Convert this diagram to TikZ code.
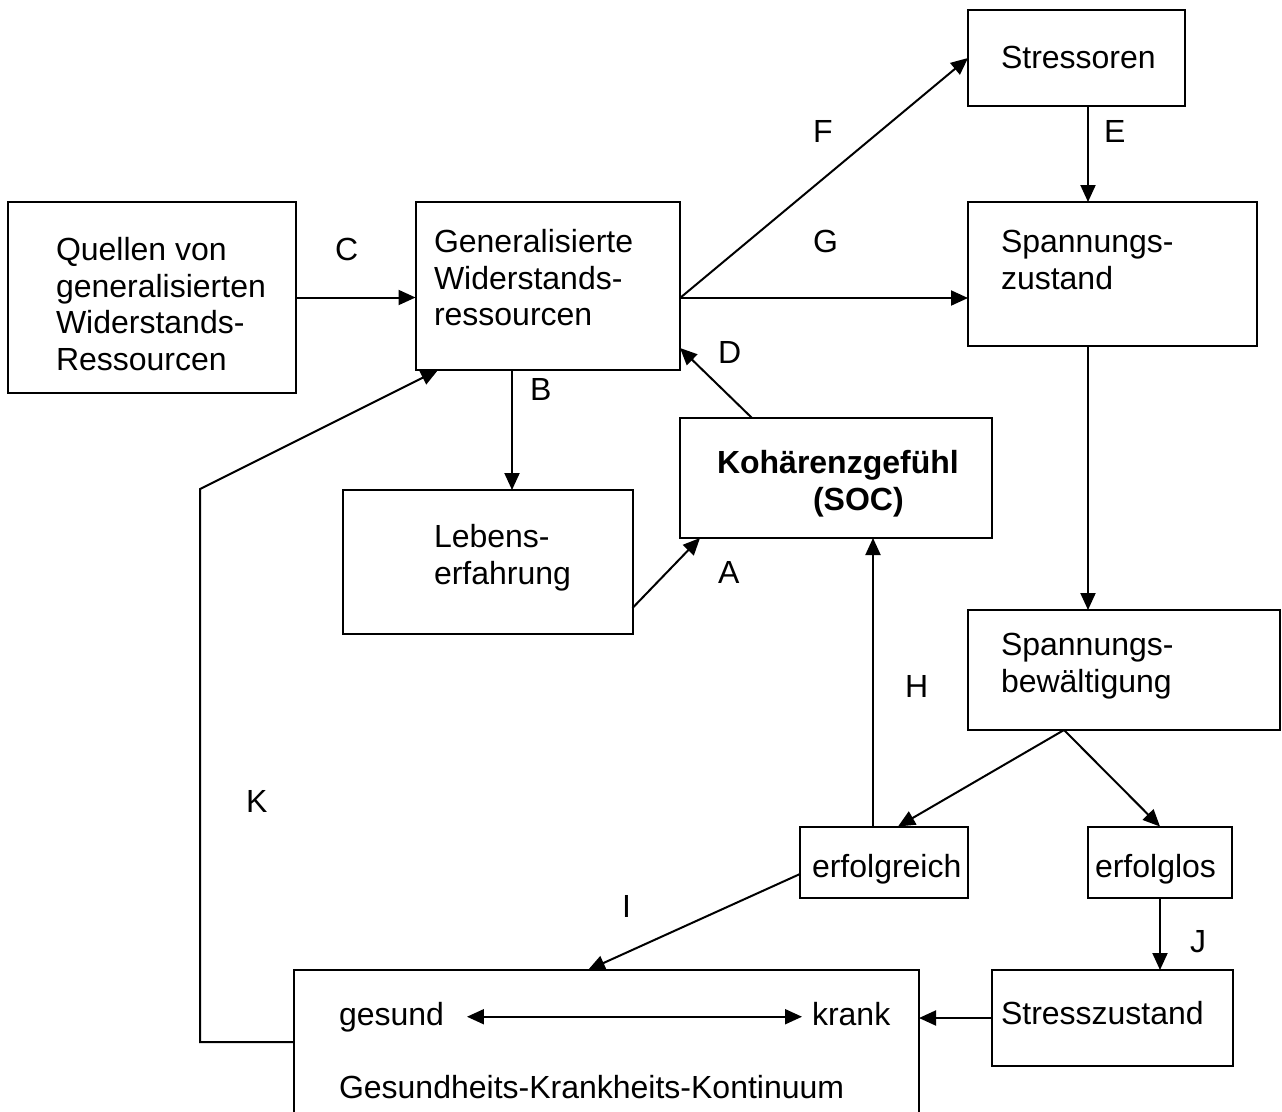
\documentclass[tikz,border=0pt]{standalone}
\usepackage{fontspec}
\setmainfont{Liberation Sans}
\usetikzlibrary{arrows.meta,calc}
\begin{document}
\begin{tikzpicture}[x=1pt,y=-1pt,
  box/.style={draw, line width=2pt, inner sep=0pt, outer sep=0pt},
  txt/.style={anchor=base west, inner sep=0pt, outer sep=0pt, font=\fontsize{32}{36.8}\selectfont},
  btxt/.style={txt, font=\fontsize{32}{36.8}\selectfont\bfseries},
  arr/.style={line width=2pt, -{Triangle[length=17pt,width=15pt]}},
  con/.style={line width=2pt}]
\useasboundingbox (0,0) rectangle (1282,1111);
\clip (0,0) rectangle (1282,1111);
\fill[white] (0,0) rectangle (1282,1111);

% boxes
\node[box, minimum width=288pt, minimum height=191pt] (quellen) at (152,297.5) {};
\node[box, minimum width=264.5pt, minimum height=168pt] (gen) at (547.75,286) {};
\node[box, minimum width=217pt, minimum height=96pt] (stress) at (1076.5,58) {};
\node[box, minimum width=289pt, minimum height=144pt] (spz) at (1112.5,274) {};
\node[box, minimum width=289.5pt, minimum height=144pt] (leb) at (487.75,562) {};
\node[box, minimum width=312pt, minimum height=120pt] (koh) at (836,478) {};
\node[box, minimum width=312pt, minimum height=120pt] (spb) at (1124,670) {};
\node[box, minimum width=168pt, minimum height=71.5pt] (erfg) at (884,862.25) {};
\node[box, minimum width=144pt, minimum height=71.5pt] (erfl) at (1160,862.25) {};
\node[box, minimum width=241pt, minimum height=96pt] (strz) at (1112.5,1018) {};
\node[box, minimum width=625pt, minimum height=160pt] (ges) at (606.5,1050) {};

% texts
\node[txt] (q1) at (56,260) {Quellen von};
\node[txt] (q2) at (56,297) {generalisierten};
\node[txt] (q3) at (56,333) {Widerstands-};
\node[txt] (q4) at (56,370) {Ressourcen};
\node[txt] (g1) at (434,252) {Generalisierte};
\node[txt] (g2) at (434,289) {Widerstands-};
\node[txt] (g3) at (434,325) {ressourcen};
\node[txt] (s1) at (1001,68) {Stressoren};
\node[txt] (z1) at (1001,252) {Spannungs-};
\node[txt] (z2) at (1001,289) {zustand};
\node[txt] (l1) at (434,547) {Lebens-};
\node[txt] (l2) at (434,584) {erfahrung};
\node[btxt] (k1) at (717,473) {Kohärenzgefühl};
\node[btxt] (k2) at (813,510) {(SOC)};
\node[txt] (b1) at (1001,655) {Spannungs-};
\node[txt] (b2) at (1001,692) {bewältigung};
\node[txt] (e1) at (812,877) {erfolgreich};
\node[txt] (e2) at (1095,877) {erfolglos};
\node[txt] (t1) at (1001,1024) {Stresszustand};
\node[txt] (gesund) at (339,1025) {gesund};
\node[txt] (krank) at (812,1025) {krank};
\node[txt] (kont) at (339,1098) {Gesundheits-Krankheits-Kontinuum};

% labels
\node[txt] (lC) at (335,260) {C};
\node[txt] (lG) at (813,252) {G};
\node[txt] (lF) at (813,142) {F};
\node[txt] (lE) at (1104,142) {E};
\node[txt] (lD) at (718,363) {D};
\node[txt] (lB) at (530,400) {B};
\node[txt] (lA) at (718,583) {A};
\node[txt] (lH) at (905,697) {H};
\node[txt] (lI) at (622,917) {I};
\node[txt] (lJ) at (1190,952) {J};
\node[txt] (lK) at (246,812) {K};

% connectors
\draw[arr] (quellen.east) -- (quellen.east -| gen.west);
\coordinate (gout) at ($(gen.east)+(0,12)$);
\draw[arr] (gout) -- (gout -| spz.west);
\draw[arr] (gout) -- (stress.west);
\coordinate (ecol) at ($(stress.south)+(11.5,0)$);
\draw[arr] (ecol) -- (ecol |- spz.north);
\coordinate (zcol) at ($(spz.south)+(-24.5,0)$);
\draw[arr] (zcol) -- (zcol |- spb.north);
\draw[arr] ($(koh.north)+(-84,0)$) -- ($(gen.south east)+(0,-22)$);
\coordinate (bcol) at ($(gen.south)+(-35.75,0)$);
\draw[arr] (bcol) -- (bcol |- leb.north);
\draw[arr] ($(leb.east)+(0,46)$) -- ($(koh.south)+(-136,0)$);
\coordinate (hcol) at ($(erfg.north)+(-11,0)$);
\draw[arr] (hcol) -- (hcol |- koh.south);
\coordinate (sbot) at ($(spb.south)+(-60,0)$);
\draw[arr] (sbot) -- ($(erfg.north)+(14,0)$);
\draw[arr] (sbot) -- (erfl.north);
\draw[arr] (erfl.south) -- (erfl.south |- strz.north);
\draw[arr] ($(erfg.west)+(0,11.75)$) -- ($(ges.north)+(-18.5,0)$);
\draw[arr] (strz.west) -- (strz.west -| ges.east);
\draw[line width=2pt, {Triangle[length=17pt,width=15pt]}-{Triangle[length=17pt,width=15pt]}]
  ([xshift=23pt]gesund.east) -- ([xshift=-10pt]gesund.east -| krank.west);
\coordinate (kc) at (200,489);
\draw[arr] ($(ges.west)+(0,-8)$) -| (kc) -- ($(gen.south)+(-109.75,0)$);
\end{tikzpicture}
\end{document}
